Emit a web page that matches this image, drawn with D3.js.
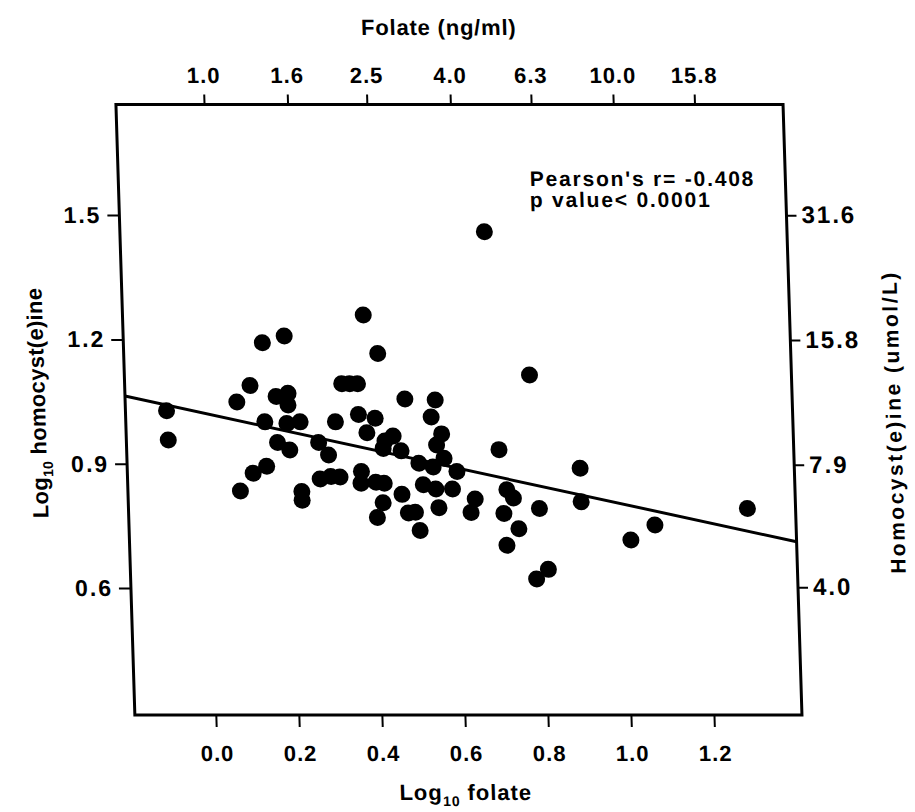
<!DOCTYPE html>
<html>
<head>
<meta charset="utf-8">
<script src="https://cdn.jsdelivr.net/npm/d3@7"></script>
<style>
  body { margin: 0; background: #fff; }
  svg text { font-family: Arial, "Liberation Sans", Helvetica, sans-serif; font-weight: bold; fill: #000; }
  .axis text { font-size: 22px; letter-spacing: 1px; }
  .axis.left text { font-size: 23px; letter-spacing: 2px; }
  .axis.right text { font-size: 24px; letter-spacing: 2px; }
  .axis line { stroke: #000; stroke-width: 2; }
  .axis path { display: none; }
</style>
</head>
<body>
<svg id="chart" width="915" height="812"></svg>
<script>
// Log10 folate (x) and log10 homocyst(e)ine (y), one entry per subject
var logFolate = [
	-0.096, -0.094, 0.074, 0.107, 0.140, 0.193, 0.076, 0.108, 0.141, 0.169,
	0.198, 0.197, 0.140, 0.193, 0.225, 0.169, 0.198, 0.224, 0.224, 0.269,
	0.295, 0.317, 0.268, 0.291, 0.310, 0.328, 0.347, 0.366, 0.385, 0.417,
	0.366, 0.406, 0.385, 0.448, 0.428, 0.423, 0.466, 0.479, 0.552, 0.541,
	0.565, 0.552, 0.508, 0.542, 0.569, 0.599, 0.369, 0.367, 0.403, 0.423,
	0.465, 0.517, 0.547, 0.587, 0.553, 0.419, 0.404, 0.479, 0.496, 0.506,
	0.641, 0.630, 0.718, 0.733, 0.709, 0.744, 0.714, 0.702, 0.683, 0.781,
	0.896, 0.896, 0.795, 0.812, 0.783, 1.013, 1.072, 1.296
];
var logHcy = [
	1.028, 0.957, 1.049, 1.089, 1.192, 1.208, 0.834, 0.877, 0.894, 1.062,
	1.070, 1.042, 1.001, 0.997, 1.001, 0.951, 0.933, 0.833, 0.812, 0.863,
	0.869, 0.868, 0.951, 0.921, 1.001, 1.093, 1.093, 1.093, 1.259, 1.166,
	1.019, 1.010, 0.975, 0.967, 0.955, 0.937, 0.931, 1.056, 1.054, 1.013,
	0.972, 0.945, 0.901, 0.892, 0.913, 0.881, 0.881, 0.853, 0.855, 0.853,
	0.826, 0.849, 0.839, 0.839, 0.794, 0.806, 0.770, 0.781, 0.783, 0.739,
	0.815, 0.782, 0.837, 0.817, 0.780, 0.743, 0.703, 0.934, 1.460, 1.114,
	0.889, 0.808, 0.792, 0.645, 0.622, 0.716, 0.752, 0.792
];

// Axis ticks
var bottomTicks = [0.0, 0.2, 0.4, 0.6, 0.8, 1.0, 1.2];
var leftTicks = [0.6, 0.9, 1.2, 1.5];
var topTickLabels = ['1.0', '1.6', '2.5', '4.0', '6.3', '10.0', '15.8'];
var rightTickLabels = ['31.6', '15.8', '7.9', '4.0'];

// Least squares fit
var fitIntercept = 1.0206;
var fitSlope = -0.2188;
var statLines = ["Pearson's r= -0.408", 'p value< 0.0001'];

/*
 * Setup
 */
var SHEAR = 0.031; // the scanned page is slightly sheared
var box = { left: 112.7, right: 779.8, top: 104.5, bottom: 715 };

var unshear = function(x, y) {
	return x - SHEAR * y;
};

var svg = d3.select('#chart');
var chart = svg.append('g')
	.attr('transform', 'skewX(' + (Math.atan(SHEAR) * 180 / Math.PI) + ')');

var xScale = d3.scaleLinear().domain([-0.195, 1.412]).range([box.left, box.right]);
var xTopScale = d3.scaleLinear().domain([-0.2153, 1.415]).range([box.left, box.right]);
var yScale = d3.scaleLinear().domain([0.2935, 1.767]).range([box.bottom, box.top]);

/*
 * Axes
 */
chart.append('g')
	.attr('class', 'axis bottom')
	.attr('transform', 'translate(0,' + box.bottom + ')')
	.call(d3.axisBottom(xScale).tickValues(bottomTicks).tickSize(12).tickPadding(18).tickFormat(d3.format('.1f')));

chart.append('g')
	.attr('class', 'axis top')
	.attr('transform', 'translate(0,' + box.top + ')')
	.call(d3.axisTop(xTopScale)
		.tickValues(topTickLabels.map(function(d) { return Math.log10(+d); }))
		.tickSize(10).tickPadding(12)
		.tickFormat(function(d, i) { return topTickLabels[i]; }));

chart.append('g')
	.attr('class', 'axis left')
	.attr('transform', 'translate(' + box.left + ',0)')
	.call(d3.axisLeft(yScale).tickValues(leftTicks).tickSize(12).tickPadding(6).tickFormat(d3.format('.1f')));

chart.append('g')
	.attr('class', 'axis right')
	.attr('transform', 'translate(' + box.right + ',0)')
	.call(d3.axisRight(yScale)
		.tickValues(rightTickLabels.map(function(d) { return Math.log10(+d); }))
		.tickSize(10).tickPadding(5)
		.tickFormat(function(d, i) { return rightTickLabels[i]; }));

/*
 * Frame
 */
chart.append('rect')
	.attr('x', box.left)
	.attr('y', box.top)
	.attr('width', box.right - box.left)
	.attr('height', box.bottom - box.top)
	.attr('fill', 'none')
	.attr('stroke', '#000')
	.attr('stroke-width', 3);

/*
 * Points and fit line
 */
var points = logFolate.map(function(d, i) {
	return { x: d, y: logHcy[i] };
});

chart.append('g')
	.selectAll('circle')
	.data(points)
	.enter()
	.append('circle')
	.attr('cx', function(d) { return xScale(d.x); })
	.attr('cy', function(d) { return yScale(d.y); })
	.attr('r', 8.5)
	.attr('fill', '#000');

var xEnds = xScale.domain();
chart.append('line')
	.attr('x1', xScale(xEnds[0]))
	.attr('y1', yScale(fitIntercept + fitSlope * xEnds[0]))
	.attr('x2', xScale(xEnds[1]))
	.attr('y2', yScale(fitIntercept + fitSlope * xEnds[1]))
	.attr('stroke', '#000')
	.attr('stroke-width', 3);

/*
 * Titles and stats
 */
chart.append('text')
	.attr('x', unshear(439, 35))
	.attr('y', 35)
	.attr('text-anchor', 'middle')
	.style('font-size', '22px')
	.style('letter-spacing', '0.8px')
	.text('Folate (ng/ml)');

var bottomTitle = chart.append('text')
	.attr('x', unshear(466, 800))
	.attr('y', 800)
	.attr('text-anchor', 'middle')
	.style('font-size', '22px')
	.style('letter-spacing', '1px');
bottomTitle.append('tspan').text('Log');
bottomTitle.append('tspan').attr('dy', 6).style('font-size', '14px').text('10');
bottomTitle.append('tspan').attr('dy', -6).text(' folate');

var leftTitle = chart.append('text')
	.attr('transform', 'translate(' + unshear(45, 403) + ',403) rotate(-90)')
	.attr('text-anchor', 'middle')
	.style('font-size', '22px')
	.style('letter-spacing', '0.3px');
leftTitle.append('tspan').text('Log');
leftTitle.append('tspan').attr('dy', 6).style('font-size', '14px').text('10');
leftTitle.append('tspan').attr('dy', -6).text(' homocyst(e)ine');

chart.append('text')
	.attr('transform', 'translate(' + unshear(901, 422) + ',422) rotate(-90)')
	.attr('text-anchor', 'middle')
	.style('font-size', '21px')
	.style('letter-spacing', '2.5px')
	.text('Homocyst(e)ine (umol/L)');

chart.append('g')
	.selectAll('text')
	.data(statLines)
	.enter()
	.append('text')
	.attr('x', function(d, i) { return unshear(530, 186 + i * 21); })
	.attr('y', function(d, i) { return 186 + i * 21; })
	.style('font-size', '21px')
	.style('letter-spacing', '1.8px')
	.text(function(d) { return d; });
</script>
</body>
</html>
